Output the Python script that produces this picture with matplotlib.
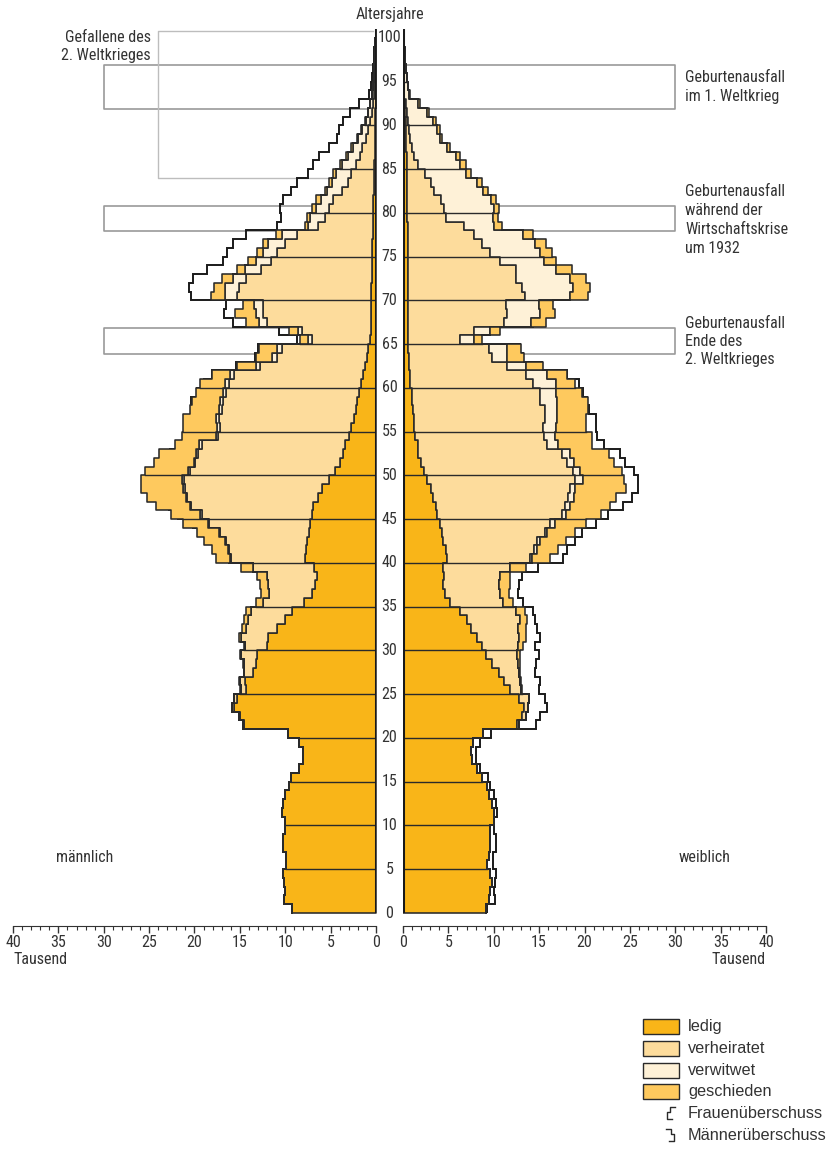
import numpy as np
import matplotlib.pyplot as plt
from matplotlib import font_manager
from matplotlib.ticker import MultipleLocator

# Alter 0..100, Werte in Tausend
ages = np.arange(101)

m_ledig = [9.3, 10.1, 10.0, 10.1, 10.2, 9.9, 9.9, 10.3, 10.2, 10.0, 10.0, 10.4, 10.3, 10.0, 9.6, 9.4, 8.5, 8.0, 8.0, 8.5, 9.7,
           14.6, 15.0, 15.6, 15.3, 14.3, 14.4, 13.5, 13.2, 13.1, 12.0, 11.9, 10.9, 10.0, 9.3, 7.9, 7.1, 6.7, 6.5, 6.8,
           7.8, 7.7, 7.6, 7.4, 7.3, 7.1, 6.9, 6.4, 6.0, 5.15, 4.5, 4.0, 3.6, 3.4, 2.95, 2.7, 2.4, 2.2, 2.05, 1.85,
           1.6, 1.4, 1.2, 1.0, 0.85, 0.65, 0.6, 0.55, 0.55, 0.5,
           0.5, 0.5, 0.45, 0.45, 0.4, 0.4, 0.4, 0.35, 0.35, 0.3, 0.3, 0.3, 0.25,
           0.25, 0.2, 0.2, 0.15, 0.15, 0.1, 0.1, 0.08, 0.06, 0.05, 0.03, 0.03, 0.02, 0.02, 0.01, 0.01, 0.01, 0]
m_verh = [0] * 21 + \
         [0.1, 0.15, 0.25, 0.35, 0.6, 0.6, 1.0, 1.4, 1.8, 2.4, 3.0, 3.4, 4.1, 4.5, 4.6, 4.7, 5.2, 5.5, 6.7,
          8.2, 8.5, 8.9, 9.8, 11.1, 12.1, 13.5, 14.4, 15.1, 16.05, 16.0, 15.9, 16.0, 15.8, 14.45, 14.5, 14.95, 14.8, 14.85, 14.65,
          14.6, 14.3, 11.6, 9.95, 9.55, 6.35, 7.5, 11.5, 11.85, 12.0,
          14.85, 14.55, 13.85, 12.25, 11.2, 10.5, 9.6, 8.35, 6.0, 5.3, 4.85, 4.4, 3.55,
          2.85, 2.5, 2.05, 1.65, 1.35, 1.0, 0.75, 0.55, 0.4, 0.28, 0.2, 0.15, 0.1, 0.08, 0.05, 0.03, 0.02, 0.01]
m_verw = [0] * 40 + \
         [0.1, 0.1, 0.1, 0.1, 0.1, 0.15, 0.15, 0.15, 0.2, 0.2, 0.2, 0.2, 0.25, 0.25, 0.25, 0.3, 0.3, 0.3, 0.3, 0.4,
          0.4, 0.4, 0.4, 0.55, 0.55, 0.5, 0.55, 0.85, 0.8, 0.9,
          1.25, 1.55, 1.5, 1.7, 1.6, 1.55, 1.85, 1.7, 1.1, 1.7, 1.45, 1.4, 1.6,
          1.8, 1.75, 1.55, 1.3, 1.05, 0.88, 0.65, 0.5, 0.39, 0.28, 0.2, 0.15, 0.12, 0.09, 0.07, 0.06, 0.04, 0.04]
m_gesch = [0] * 21 + \
          [0, 0, 0.05, 0.05, 0.1, 0.1, 0.1, 0.1, 0.1, 0.2, 0.2, 0.5, 0.5, 0.5, 0.7, 0.9, 0.9, 1.1, 1.4,
           1.55, 1.8, 2.3, 2.4, 2.8, 3.25, 3.65, 4.25, 4.6, 4.45, 4.7, 4.4, 4.05, 2.65, 3.75, 3.8, 3.65, 3.2, 3.1, 2.9,
           2.8, 2.0, 2.15, 1.7, 1.9, 0.9, 0.9, 1.4, 2.35, 1.3,
           1.6, 1.25, 1.2, 0.95, 0.85, 0.7, 0.65, 0.6, 0.35, 0.25, 0.4, 0.5, 0.2,
           0.3, 0.25, 0.2, 0.2, 0.15, 0.12, 0.1, 0.07, 0.05, 0.04, 0.02, 0.02, 0.01, 0.01, 0.01, 0, 0, 0]

f_ledig = [9.1, 9.45, 9.55, 9.8, 9.6, 9.3, 9.45, 9.55, 9.55, 9.55, 10.0, 10.0, 9.8, 9.45, 9.3, 8.7, 8.1, 7.6, 7.5, 7.7, 8.8,
           12.6, 13.1, 13.3, 12.75, 11.8, 11.1, 10.55, 9.8, 9.2, 8.7, 8.2, 7.5, 7.05, 6.3, 5.15, 4.6, 4.4, 4.5, 4.4,
           4.85, 4.7, 4.4, 4.3, 4.05, 3.75, 3.6, 3.3, 3.1, 2.65, 2.35, 2.0, 1.7, 1.6, 1.35, 1.25, 1.2, 1.1, 1.0, 1.0,
           0.8, 0.75, 0.7, 0.65, 0.6, 0.5, 0.5, 0.5, 0.5, 0.5,
           0.5, 0.5, 0.5, 0.5, 0.5, 0.5, 0.5, 0.5, 0.5, 0.45, 0.45, 0.45, 0.4,
           0.4, 0.4, 0.4, 0.4, 0.35, 0.35, 0.3, 0.3, 0.25, 0.2, 0.1, 0.08, 0.06, 0.05, 0.04, 0.03, 0.02, 0.01]
f_verh = [0] * 21 + \
         [0.2, 0.4, 0.45, 1.1, 1.2, 1.8, 2.2, 2.85, 3.4, 3.95, 4.55, 5.15, 5.85, 6.1, 5.85, 6.05, 6.15, 6.15, 7.4,
          9.15, 9.7, 10.4, 11.4, 12.2, 13.75, 14.3, 14.9, 15.35, 16.35, 16.4, 16.1, 15.8, 14.3, 14.15, 14.2, 14.4, 14.5, 14.1, 14.1,
          13.5, 12.85, 10.8, 9.15, 8.85, 5.8, 7.3, 10.6, 11.0, 10.8,
          12.9, 12.6, 12.0, 11.9, 10.2, 9.05, 8.2, 7.3, 6.2, 4.25, 4.05, 3.75, 3.0,
          2.7, 2.05, 1.2, 0.85, 0.65, 0.45, 0.4, 0.3, 0.2, 0.1, 0.05, 0.03, 0.02, 0.01, 0.01, 0, 0, 0]
f_verw = [0] * 40 + \
         [0.2, 0.35, 0.3, 0.2, 0.45, 0.45, 0.45, 0.6, 0.55, 0.85, 0.8, 0.7, 0.95, 1.15, 1.3, 1.45, 1.35, 1.35, 1.85, 1.8,
          2.6, 2.3, 2.1, 1.7, 2.05, 1.5, 1.75, 3.0, 3.6, 3.7,
          5.0, 5.6, 5.9, 4.5, 4.8, 5.55, 5.9, 5.4, 3.3, 5.2, 5.5, 5.5, 5.4,
          5.0, 4.45, 4.7, 4.55, 3.85, 3.25, 3.0, 2.7, 2.2, 1.4, 0.55, 0.4, 0.34, 0.27, 0.19, 0.16, 0.08, 0.04]
f_gesch = [0] * 21 + \
          [0, 0, 0, 0.05, 0.1, 0.1, 0.15, 0.25, 0.3, 0.55, 0.85, 0.95, 0.8, 1.0, 1.1, 1.0, 1.25, 1.15, 1.8,
           2.0, 2.35, 2.9, 3.1, 3.5, 3.85, 4.45, 4.7, 5.6, 4.45, 4.6, 4.4, 4.25, 3.8, 4.05, 3.3, 3.25, 3.45, 3.45, 2.8,
           2.1, 2.2, 1.8, 1.8, 1.5, 0.9, 1.1, 1.7, 1.7, 1.5,
           2.0, 1.9, 1.8, 1.7, 1.4, 1.3, 1.2, 1.1, 0.9, 0.6, 0.6, 0.6, 0.6,
           0.6, 0.6, 0.6, 0.45, 0.35, 0.3, 0.4, 0.3, 0.25, 0.15, 0.05, 0.04, 0.03, 0.02, 0.01, 0.01, 0, 0]

status_labels = ['ledig', 'verheiratet', 'verwitwet', 'geschieden']
status_colors = ['#F9B518', '#FDDC9C', '#FEF1D7', '#FEC95E']
EDGE = '#2a2a2a'

names = {f.name for f in font_manager.fontManager.ttflist}
NARROW = next((n for n in ['Liberation Sans Narrow', 'Roboto Condensed', 'Open Sans Condensed']
               if n in names), 'Liberation Sans')
REG = 'Liberation Sans' if 'Liberation Sans' in names else 'DejaVu Sans'
plt.rcParams['font.family'] = [NARROW, 'DejaVu Sans']
TXT = '#333333'

W, H = 831, 1149
fig = plt.figure(figsize=(W / 100, H / 100), dpi=100)


def px_rect(x0, y0, x1, y1):
    return [x0 / W, 1 - y1 / H, (x1 - x0) / W, (y1 - y0) / H]


ax_m = fig.add_axes(px_rect(13, 29, 376, 913))
ax_f = fig.add_axes(px_rect(403, 29, 766, 913))


def steps(v):
    v = np.asarray(v, float)
    return np.repeat(v, 2), np.column_stack([ages, ages + 1]).ravel()


def draw_side(ax, parts, other_total):
    cum = np.cumsum(np.vstack(parts).astype(float), axis=0)
    _, ys = steps(cum[0])
    ox, _ = steps(other_total)
    ax.plot(ox, ys, color='#1a1a1a', lw=1.4, zorder=2, solid_joinstyle='miter')
    lower = np.zeros(len(ages))
    for k in range(4):
        lx, _ = steps(lower)
        ux, _ = steps(cum[k])
        ax.fill_betweenx(ys, lx, ux, facecolor=status_colors[k], edgecolor=EDGE,
                         lw=1.15, zorder=3)
        lower = cum[k]
    total = cum[-1]
    for a in range(5, 101, 5):
        ax.plot([0, min(total[a - 1], total[a])], [a, a], color=EDGE, lw=1.0, zorder=4)
    ax.axvline(0, color='#1a1a1a', lw=2.2, zorder=5)
    return total


m_parts = [m_ledig, m_verh, m_verw, m_gesch]
f_parts = [f_ledig, f_verh, f_verw, f_gesch]
m_total = np.sum(np.array(m_parts, float), axis=0)
f_total = np.sum(np.array(f_parts, float), axis=0)
draw_side(ax_m, m_parts, f_total)
draw_side(ax_f, f_parts, m_total)

# Markierungsrahmen (Alter von, bis)
gaps = [(91.9, 96.9), (77.9, 80.8), (63.9, 66.8)]
for ax in (ax_m, ax_f):
    for y0, y1 in gaps:
        ax.plot([0, 30, 30, 0], [y0, y0, y1, y1], color='#9a9a9a', lw=1.2, zorder=1)
ax_m.plot([0.3, 24, 24, 0.3], [84, 84, 100.8, 100.8], color='#bdbdbd', lw=1.0, zorder=1)

for ax, lim in ((ax_m, (40, 0)), (ax_f, (0, 40))):
    ax.set_xlim(*lim)
    ax.set_ylim(0, 101)
    for s in ('top', 'left', 'right'):
        ax.spines[s].set_visible(False)
    ax.spines['bottom'].set_position(('outward', 9))
    ax.spines['bottom'].set_color('#333333')
    ax.set_yticks([])
    ax.xaxis.set_major_locator(MultipleLocator(5))
    ax.xaxis.set_minor_locator(MultipleLocator(1))
    ax.tick_params(axis='x', which='major', length=5, width=1, color='#333333',
                   labelsize=11.5, labelcolor=TXT, pad=2)
    ax.tick_params(axis='x', which='minor', length=3, width=0.8, color='#333333')
    ax.patch.set_alpha(0)

for a in range(0, 101, 5):
    ax_f.text(-0.0372, a, str(a), transform=ax_f.get_yaxis_transform(), ha='center',
              va='center', fontsize=11.5, color=TXT, clip_on=False)

# Texte und Legende in Pixelkoordinaten
ov = fig.add_axes([0, 0, 1, 1], zorder=-1)
ov.set_xlim(0, W)
ov.set_ylim(H, 0)
ov.axis('off')


def put_lines(x, y0, lines, ha='left', dy=18.8):
    for i, t in enumerate(lines):
        ov.text(x, y0 + i * dy, t, ha=ha, va='center', fontsize=11.5, color=TXT)


put_lines(390, 14, ['Altersjahre'], ha='center')
put_lines(151, 37, ['Gefallene des', '2. Weltkrieges'], ha='right')
put_lines(685, 78, ['Geburtenausfall', 'im 1. Weltkrieg'])
put_lines(685, 191, ['Geburtenausfall', 'während der', 'Wirtschaftskrise', 'um 1932'], dy=19.2)
put_lines(685, 323, ['Geburtenausfall', 'Ende des', '2. Weltkrieges'], dy=18.4)
put_lines(85, 857, ['männlich'], ha='center')
put_lines(705, 857, ['weiblich'], ha='center')
put_lines(13, 959, ['Tausend'])
put_lines(766, 959, ['Tausend'], ha='right')

leg_y = [1019, 1041, 1063, 1084]
for y, col, lab in zip(leg_y, status_colors, status_labels):
    ov.add_patch(plt.Rectangle((643, y), 36, 15, facecolor=col, edgecolor=EDGE, lw=1.0))
    ov.text(688, y + 7.5, lab, ha='left', va='center', fontsize=11.7, color=TXT, family=REG)

ov.plot([675, 670, 670, 667, 667, 672], [1107, 1107, 1112, 1112, 1119, 1119], color=EDGE, lw=1.0)
ov.text(688, 1114, 'Frauenüberschuss', ha='left', va='center', fontsize=11.7, color=TXT, family=REG)
ov.plot([666, 671, 671, 674, 674, 669], [1129, 1129, 1134, 1134, 1141, 1141], color=EDGE, lw=1.0)
ov.text(688, 1135, 'Männerüberschuss', ha='left', va='center', fontsize=11.7, color=TXT, family=REG)

fig.savefig('out.png', dpi=100)
